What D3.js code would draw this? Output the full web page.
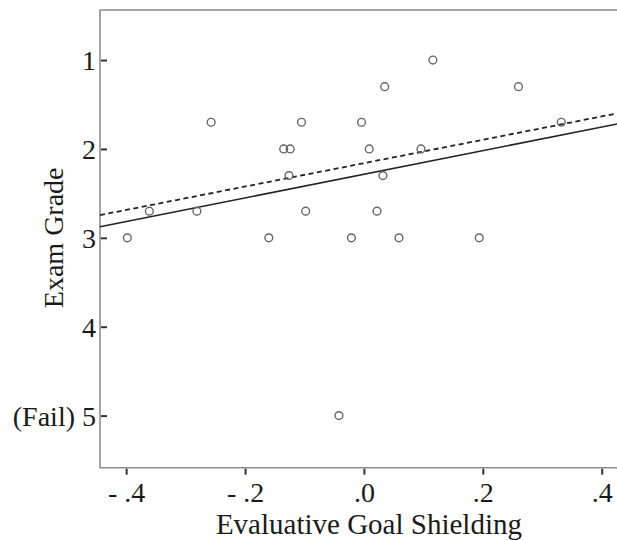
<!DOCTYPE html>
<html>
<head>
<meta charset="utf-8">
<script src="https://cdn.jsdelivr.net/npm/d3@7"></script>
<style>
    html, body { margin: 0; padding: 0; background: #fff; overflow: hidden; }
    svg { display: block; }
    text { font-family: "Book Antiqua", Palatino, "Liberation Serif", "DejaVu Serif", serif; fill: #1a1a1a; }
</style>
</head>
<body>
<div id="chart-area"></div>
<script>
// Evaluative goal shielding vs. exam grade
var shielding = [-0.398, -0.361, -0.281, -0.257, -0.160, -0.135, -0.124, -0.126, -0.105, -0.098,
    -0.042, -0.021, -0.004, 0.009, 0.022, 0.032, 0.035, 0.059, 0.096, 0.116, 0.194, 0.260, 0.332];
var grade = [3.0, 2.7, 2.7, 1.7, 3.0, 2.0, 2.0, 2.3, 1.7, 2.7,
    5.0, 3.0, 1.7, 2.0, 2.7, 2.3, 1.3, 3.0, 2.0, 1.0, 3.0, 1.3, 1.7];

// fit lines, read at the left axis and at the right edge of the picture
var fitX = [-0.444, 0.426];
var solidFit = [2.875, 1.719];
var dashedFit = [2.744, 1.600];

var xTicks = [-0.4, -0.2, 0, 0.2, 0.4];
var xTickLabels = ["- .4", "- .2", ".0", ".2", ".4"];
var yTicks = [1, 2, 3, 4, 5];
var yTickLabels = ["1", "2", "3", "4", "(Fail) 5"];

var margin = {
    left: 100,
    right: 0,
    top: 10,
    bottom: 72,
};

var width = 532,
height = 540 - margin.top - margin.bottom - 0.3;

var svg = d3.select("#chart-area").append("svg")
    .attr("width", 617)
    .attr("height", 540);

var g = svg.append("g").attr("transform", "translate(" + margin.left + ", " + margin.top + ")");

var x = d3.scaleLinear().domain([-0.444, 0.451]).range([0, width]);
var y = d3.scaleLinear().domain([0.437, 5.586]).range([0, height]);

// frame: top, left and bottom (right side runs off the picture)
g.append("path")
    .attr("d", "M530,0H0V" + height + "H530")
    .attr("fill", "none")
    .attr("stroke", "#8c8c8c")
    .attr("stroke-width", 1.6);

// X axis (ticks outside)
var xAxisGroup = g.append("g")
    .attr("class", "x axis")
    .attr("transform", "translate(0, " + height + ")")
    .call(d3.axisBottom(x)
        .tickValues(xTicks)
        .tickSize(7)
        .tickPadding(6)
        .tickFormat((d, i) => xTickLabels[i]));
xAxisGroup.select(".domain").remove();
xAxisGroup.selectAll("line").attr("stroke", "#333").attr("stroke-width", 2).attr("y1", 1);
xAxisGroup.selectAll("text")
    .attr("font-size", "28px")
    .attr("dy", "0.75em")
    .attr("fill", null);

// Y axis (ticks inside)
var yAxisGroup = g.append("g")
    .attr("class", "y axis")
    .call(d3.axisLeft(y)
        .tickValues(yTicks)
        .tickSize(-7)
        .tickPadding(5)
        .tickFormat((d, i) => yTickLabels[i]));
yAxisGroup.select(".domain").remove();
yAxisGroup.selectAll("line").attr("stroke", "#333").attr("stroke-width", 2).attr("x1", 1);
yAxisGroup.selectAll("text")
    .attr("font-size", "28px")
    .attr("x", -4)
    .attr("dy", "0.34em")
    .attr("fill", null);

// X Label
g.append("text")
    .attr("class", "x axis-label")
    .attr("x", x(0) + 5)
    .attr("y", height + 66)
    .attr("font-size", "29px")
    .attr("text-anchor", "middle")
    .text("Evaluative Goal Shielding");

// Y Label
g.append("text")
    .attr("class", "y axis-label")
    .attr("x", -(y(3.0)))
    .attr("y", -37)
    .attr("font-size", "28px")
    .attr("text-anchor", "middle")
    .attr("transform", "rotate(-90)")
    .text("Exam Grade");

var fitLine = d3.line()
    .x((d, i) => x(fitX[i]))
    .y((d) => y(d));

g.append("path")
    .attr("d", fitLine(solidFit))
    .attr("fill", "none")
    .attr("stroke", "#222")
    .attr("stroke-width", 1.6);

g.append("path")
    .attr("d", fitLine(dashedFit))
    .attr("fill", "none")
    .attr("stroke", "#222")
    .attr("stroke-width", 1.8)
    .attr("stroke-dasharray", "5,3.5");

// points
g.selectAll("circle")
    .data(shielding)
    .enter().append("circle")
        .attr("cx", (d) => x(d))
        .attr("cy", (d, i) => y(grade[i]))
        .attr("r", 3.9)
        .attr("fill", "none")
        .attr("stroke", "#666")
        .attr("stroke-width", 1.4);
</script>
</body>
</html>
